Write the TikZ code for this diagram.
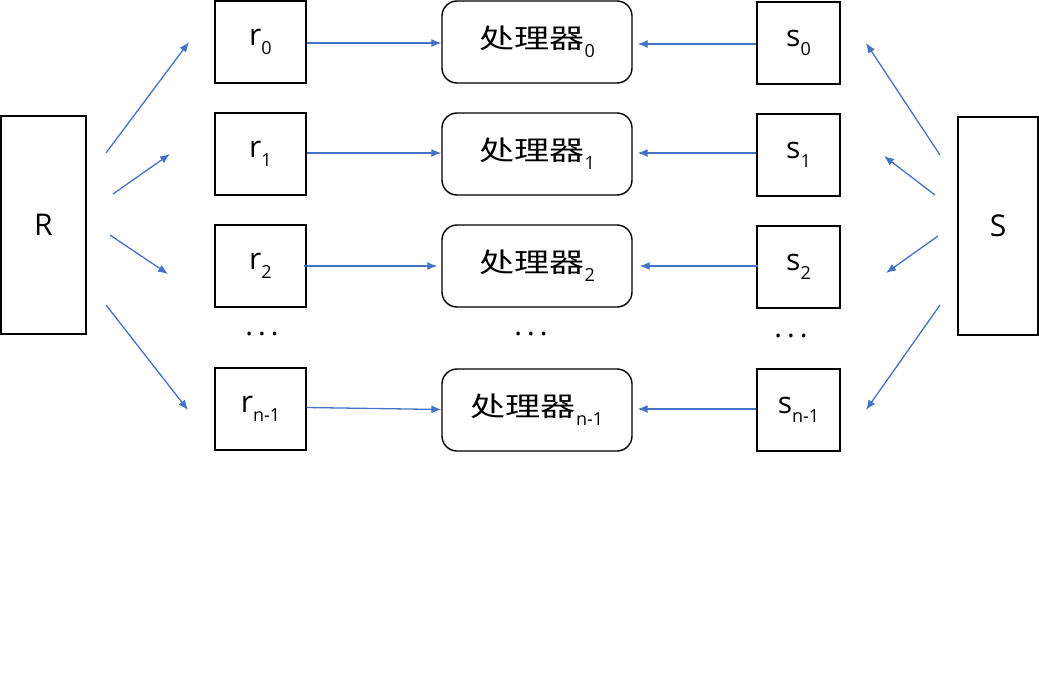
\documentclass[tikz,border=0pt]{standalone}
\usepackage{fontspec}
\setmainfont{Open Sans}
\newfontfamily\cjk{Noto Sans CJK SC}
\usetikzlibrary{arrows.meta}
\definecolor{arrowblue}{HTML}{4472C4}
\newcommand\subx[1]{\raisebox{-0.3em}{\fontsize{18}{18}\selectfont #1}}
\newcommand\proc{{\fontsize{27}{30}\selectfont\cjk\scalebox{1.3}[1]{处理器}}}
\tikzset{
  box/.style={draw=black, line width=1.4pt, fill=white, inner sep=0pt, font=\fontsize{30}{32}\selectfont},
  rbox/.style={box, minimum width=91pt, minimum height=82pt},
  sbox/.style={box, minimum width=83pt, minimum height=82pt},
  pbox/.style={box, rounded corners=15pt, minimum width=190pt, minimum height=82pt},
  bigbox/.style={box, minimum height=218pt},
  conn/.style={draw=arrowblue, line width=1.3pt, -{Latex[length=10pt,width=8pt]}},
  dots/.style={font=\fontsize{29}{32}\selectfont, inner sep=0pt}
}
\begin{document}
\begin{tikzpicture}[x=1pt,y=-1pt]
\useasboundingbox (0,0) rectangle (1039,699);
% big boxes
\node[bigbox, minimum width=85pt] (R) at (43.5,225) {R};
\node[bigbox, minimum width=80pt] (S) at (998,226) {S};
% r boxes
\node[rbox] (r0) at (260.5,42) {r\subx{0}};
\node[rbox] (r1) at (260.5,154) {r\subx{1}};
\node[rbox] (r2) at (260.5,266) {r\subx{2}};
\node[rbox] (rn) at (260.5,409) {r\subx{n-1}};
% processors
\node[pbox] (p0) at (537,42) {\proc\subx{0}};
\node[pbox] (p1) at (537,154) {\proc\subx{1}};
\node[pbox] (p2) at (537,266) {\proc\subx{2}};
\node[pbox] (pn) at (537,410) {\proc\subx{n-1}};
% s boxes
\node[sbox] (s0) at (798.5,43) {s\subx{0}};
\node[sbox] (s1) at (798.5,155) {s\subx{1}};
\node[sbox] (s2) at (798.5,267) {s\subx{2}};
\node[sbox] (sn) at (798.5,410) {s\subx{n-1}};
% dots
\node[dots] (d1) at (262,334) {.\hspace{5pt}.\hspace{5pt}.};
\node[dots] (d2) at (531,334) {.\hspace{5pt}.\hspace{5pt}.};
\node[dots] (d3) at (791,336) {.\hspace{5pt}.\hspace{5pt}.};
% free ends of fan-out arrows
\coordinate (ra0) at (106,153); \coordinate (rb0) at (189,42);
\coordinate (ra1) at (113,194); \coordinate (rb1) at (170,154);
\coordinate (ra2) at (110,235); \coordinate (rb2) at (168,274);
\coordinate (ra3) at (106,305); \coordinate (rb3) at (188,410);
\coordinate (sa0) at (940,155); \coordinate (sb0) at (866,43);
\coordinate (sa1) at (935,195); \coordinate (sb1) at (884,156);
\coordinate (sa2) at (938,236); \coordinate (sb2) at (886,273);
\coordinate (sa3) at (940,305); \coordinate (sb3) at (866,410);
\foreach \i in {0,1,2,3} {
  \draw[conn] (ra\i) -- (rb\i);
  \draw[conn] (sa\i) -- (sb\i);
}
% r -> processor
\draw[conn] ([yshift=-1pt]r0.east) -- ([yshift=-1pt]p0.west);
\draw[conn] ([yshift=1pt]r1.east) -- ([yshift=1pt]p1.west);
\draw[conn] ([xshift=-3pt]r2.east) -- ([xshift=-4pt]p2.west);
\draw[conn] ([yshift=1.5pt]rn.east) -- ([yshift=0.5pt]pn.west);
% s -> processor
\draw[conn] ([yshift=-1pt]s0.west) -- ([xshift=5pt,yshift=-1pt]p0.east |- s0.west);
\draw[conn] ([yshift=2pt]s1.west) -- ([xshift=5pt,yshift=2pt]p1.east |- s1.west);
\draw[conn] ([xshift=2pt,yshift=1pt]s2.west) -- ([xshift=7pt,yshift=1pt]p2.east |- s2.west);
\draw[conn] ([yshift=1pt]sn.west) -- ([xshift=5pt,yshift=1pt]pn.east |- sn.west);
\end{tikzpicture}
\end{document}
